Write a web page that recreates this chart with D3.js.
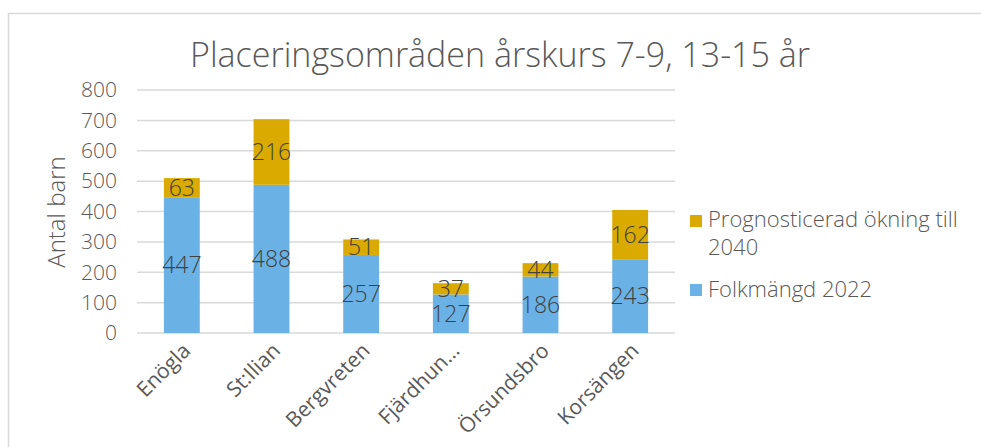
<!DOCTYPE html>
<meta charset="utf-8">
<style>
    body { margin: 0; background: #fff; }
    text { font-family: "Open Sans", "DejaVu Sans", sans-serif; }
    .grid line { stroke: #d9d9d9; stroke-width: 1.5px; }
    .tick-label { font-size: 21px; font-weight: 300; fill: #595959; }
    .cat-label { font-size: 21px; fill: #595959; }
    .val { font-size: 23px; font-weight: 300; fill: #404040; text-anchor: middle; }
    .leg { font-size: 22px; font-weight: 300; fill: #595959; }
</style>
<script src="https://d3js.org/d3.v7.min.js"></script>
<div id="chart"></div>
<script>
var categories = ["Enögla", "St:Ilian", "Bergvreten", "Fjärdhun…", "Örsundsbro", "Korsängen"];
var folkmangd = [447, 488, 257, 127, 186, 243];
var okning = [63, 216, 51, 37, 44, 162];
var yTicks = [0, 100, 200, 300, 400, 500, 600, 700, 800];
var seriesNames = ["Prognosticerad ökning till 2040", "Folkmängd 2022"];
var colors = { blue: "#6AB1E5", gold: "#DAAA00" };

var width = 981, height = 447;
var svg = d3.select("#chart").append("svg")
    .attr("width", width)
    .attr("height", height);

// chart area border
svg.append("rect")
    .attr("x", 8.5).attr("y", 13.5)
    .attr("width", 1000).attr("height", 500)
    .attr("fill", "none").attr("stroke", "#d9d9d9").attr("stroke-width", 1.5);

var x = d3.scaleBand()
    .domain(categories)
    .range([137, 675])
    .paddingInner(0.6)
    .paddingOuter(0.3);

var y = d3.scaleLinear()
    .domain([0, 800])
    .range([333, 90]);

// title
svg.append("text")
    .attr("x", 500).attr("y", 67)
    .attr("text-anchor", "middle")
    .style("font-size", "34px").style("font-weight", 300).style("fill", "#595959")
    .text("Placeringsområden årskurs 7-9, 13-15 år");

// gridlines
svg.append("g").attr("class", "grid")
    .selectAll("line")
    .data(yTicks)
    .enter().append("line")
    .attr("x1", 137).attr("x2", 675)
    .attr("y1", function (d) { return y(d); })
    .attr("y2", function (d) { return y(d); });

svg.append("g")
    .selectAll("text")
    .data(yTicks)
    .enter().append("text")
    .attr("class", "tick-label")
    .attr("x", 117)
    .attr("y", function (d) { return y(d); })
    .attr("dy", "0.35em")
    .attr("text-anchor", "end")
    .text(function (d) { return d; });

// y axis title
svg.append("text")
    .attr("transform", "translate(65,212) rotate(-90)")
    .attr("text-anchor", "middle")
    .style("font-size", "24px").style("font-weight", 300).style("fill", "#595959")
    .text("Antal barn");

var rows = categories.map(function (c, i) {
    return { name: c, base: folkmangd[i], inc: okning[i] };
});

var bars = svg.append("g");
bars.selectAll("rect.base")
    .data(rows)
    .enter().append("rect")
    .attr("class", "base")
    .attr("x", function (d) { return x(d.name); })
    .attr("width", x.bandwidth())
    .attr("y", function (d) { return y(d.base); })
    .attr("height", function (d) { return y(0) - y(d.base); })
    .attr("fill", colors.blue);

bars.selectAll("rect.inc")
    .data(rows)
    .enter().append("rect")
    .attr("class", "inc")
    .attr("x", function (d) { return x(d.name); })
    .attr("width", x.bandwidth())
    .attr("y", function (d) { return y(d.base + d.inc); })
    .attr("height", function (d) { return y(d.base) - y(d.base + d.inc); })
    .attr("fill", colors.gold);

// value labels
bars.selectAll("text.vb")
    .data(rows)
    .enter().append("text")
    .attr("class", "val")
    .attr("x", function (d) { return x(d.name) + x.bandwidth() / 2; })
    .attr("y", function (d) { return y(d.base / 2); })
    .attr("dy", "0.35em")
    .text(function (d) { return d.base; });

bars.selectAll("text.vi")
    .data(rows)
    .enter().append("text")
    .attr("class", "val")
    .attr("x", function (d) { return x(d.name) + x.bandwidth() / 2; })
    .attr("y", function (d) { return y(d.base + d.inc / 2); })
    .attr("dy", "0.35em")
    .text(function (d) { return d.inc; });

// category labels, rotated
svg.append("g")
    .selectAll("text")
    .data(categories)
    .enter().append("text")
    .attr("class", "cat-label")
    .attr("text-anchor", "end")
    .attr("transform", function (d) {
        return "translate(" + (x(d) + x.bandwidth() / 2 + 10) + ",352) rotate(-45)";
    })
    .text(function (d) { return d; });

// legend
var legend = svg.append("g");
legend.append("rect").attr("x", 690).attr("y", 215).attr("width", 12).attr("height", 12).attr("fill", colors.gold);
legend.append("text").attr("class", "leg").attr("x", 708).attr("y", 227).text("Prognosticerad ökning till");
legend.append("text").attr("class", "leg").attr("x", 708).attr("y", 255).text("2040");
legend.append("rect").attr("x", 690).attr("y", 284).attr("width", 12).attr("height", 12).attr("fill", colors.blue);
legend.append("text").attr("class", "leg").attr("x", 708).attr("y", 297).text(seriesNames[1]);
</script>
